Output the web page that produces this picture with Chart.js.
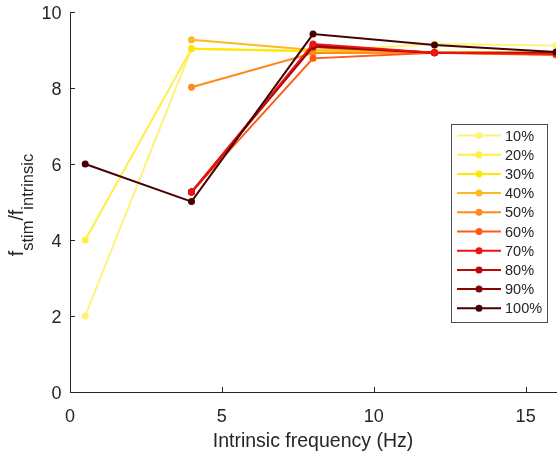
<!DOCTYPE html>
<html>
<head>
<meta charset="utf-8">
<script src="https://cdn.jsdelivr.net/npm/chart.js@4/dist/chart.umd.min.js"></script>
<style>
  html, body { margin: 0; padding: 0; background: #fff; overflow: hidden; }
  #wrap { width: 560px; height: 456px; }
</style>
</head>
<body>
<div id="wrap"><canvas id="ratioChart"></canvas></div>
<script>
// intrinsic frequencies (Hz) shared by every curve
const freqs = [0.5, 4, 8, 12, 16];

const levels = ["10%", "20%", "30%", "40%", "50%", "60%", "70%", "80%", "90%", "100%"];

// f_stim / f_intrinsic per stimulation level (null = no value at that frequency)
const ratio10 = [2.0, 9.03, 8.97, 9.16, 9.12];
const ratio20 = [4.0, 9.03, 8.97, 8.95, 8.93];
const ratio30 = [null, 9.03, 8.97, 8.95, 8.93];
const ratio40 = [null, 9.27, 9.0, 8.94, 8.92];
const ratio50 = [null, 8.02, 8.92, 8.93, 8.88];
const ratio60 = [null, 5.26, 8.78, 8.93, 8.87];
const ratio70 = [null, 5.26, 9.16, 8.93, 8.9];
const ratio80 = [null, 5.26, 9.08, 8.93, 8.92];
const ratio90 = [null, 5.26, 9.12, 8.93, 8.93];
const ratio100 = [6.0, 5.01, 9.42, 9.13, 8.95];

const allRatios = [ratio10, ratio20, ratio30, ratio40, ratio50,
  ratio60, ratio70, ratio80, ratio90, ratio100];

const colors = ["#fff27a", "#ffee44", "#ffe800", "#ffb81e", "#ff8a1c",
  "#ff5a16", "#ee1212", "#bb0a0a", "#860606", "#460202"];

const xTicks = [0, 5, 10, 15];
const yTicks = [0, 2, 4, 6, 8, 10];

const axisColor = "#262626";
const fontFamily = "'Liberation Sans', Arial, sans-serif";

// later levels on top, except 70% which sits just under 100%
const datasets = allRatios.map((vals, i) => ({
  label: levels[i],
  data: freqs.map((f, j) => ({ x: f, y: vals[j] })),
  borderColor: colors[i],
  backgroundColor: colors[i],
  pointBackgroundColor: colors[i],
  pointBorderColor: colors[i],
  borderWidth: 2,
  pointRadius: 3.5,
  pointBorderWidth: 0,
  tension: 0,
  spanGaps: false,
  order: levels[i] === "70%" ? 1.5 : allRatios.length - i
}));

// inward tick marks, tick labels, axis titles and the boxed legend
const decorations = {
  id: "decorations",
  beforeDatasetsDraw(chart) {
    const ctx = chart.ctx;
    const { left, bottom } = chart.chartArea;
    const xs = chart.scales.x, ys = chart.scales.y;
    ctx.save();
    ctx.strokeStyle = axisColor;
    ctx.lineWidth = 1;
    ctx.beginPath();
    xTicks.forEach(v => {
      const px = Math.round(xs.getPixelForValue(v)) + 0.5;
      ctx.moveTo(px, bottom);
      ctx.lineTo(px, bottom - 5);
    });
    yTicks.forEach(v => {
      const py = Math.round(ys.getPixelForValue(v)) + 0.5;
      ctx.moveTo(left, py);
      ctx.lineTo(left + 5, py);
    });
    ctx.stroke();

    ctx.fillStyle = axisColor;
    ctx.font = "18px " + fontFamily;
    ctx.textBaseline = "alphabetic";
    ctx.textAlign = "center";
    xTicks.forEach(v => {
      ctx.fillText(String(v), xs.getPixelForValue(v), 421.5);
    });
    ctx.textAlign = "right";
    yTicks.forEach(v => {
      ctx.fillText(String(v), left - 8.5, ys.getPixelForValue(v) + 6.8);
    });
    ctx.restore();
  },
  afterDraw(chart) {
    const ctx = chart.ctx;
    const { left, right } = chart.chartArea;
    ctx.save();
    ctx.fillStyle = axisColor;

    // x title
    ctx.font = "19.5px " + fontFamily;
    ctx.textAlign = "center";
    ctx.textBaseline = "alphabetic";
    ctx.fillText("Intrinsic frequency (Hz)", (left + right) / 2, 446.5);

    // y title with subscripts
    const parts = [
      { t: "f", size: 19.5, sub: false },
      { t: "stim", size: 16.5, sub: true },
      { t: "/f", size: 19.5, sub: false },
      { t: "intrinsic", size: 16.5, sub: true }
    ];
    let total = 0;
    parts.forEach(p => {
      ctx.font = p.size + "px " + fontFamily;
      p.w = ctx.measureText(p.t).width;
      total += p.w;
    });
    ctx.translate(23, 205);
    ctx.rotate(-Math.PI / 2);
    ctx.textAlign = "left";
    let cx = -total / 2;
    parts.forEach(p => {
      ctx.font = p.size + "px " + fontFamily;
      ctx.fillText(p.t, cx, p.sub ? 10 : 0);
      cx += p.w;
    });
    ctx.restore();

    // legend box
    ctx.save();
    const bx = 451.5, by = 124.5, bw = 96, bh = 198;
    ctx.fillStyle = "#fff";
    ctx.fillRect(bx, by, bw, bh);
    ctx.strokeStyle = "#4d4d4d";
    ctx.lineWidth = 1;
    ctx.strokeRect(bx, by, bw, bh);
    ctx.font = "14.5px " + fontFamily;
    ctx.textAlign = "left";
    ctx.textBaseline = "middle";
    levels.forEach((lab, i) => {
      const y = 135.5 + i * 19.2;
      ctx.strokeStyle = colors[i];
      ctx.lineWidth = 2;
      ctx.beginPath();
      ctx.moveTo(457, y);
      ctx.lineTo(501, y);
      ctx.stroke();
      ctx.fillStyle = colors[i];
      ctx.beginPath();
      ctx.arc(479, y, 3.5, 0, Math.PI * 2);
      ctx.fill();
      ctx.fillStyle = axisColor;
      ctx.fillText(lab, 505, y + 1);
    });
    ctx.restore();
  }
};

new Chart(document.getElementById("ratioChart"), {
  type: "line",
  data: { datasets },
  options: {
    responsive: true,
    maintainAspectRatio: false,
    animation: false,
    layout: { padding: { top: 12, right: 0, left: 0, bottom: 0 } },
    plugins: {
      legend: { display: false },
      tooltip: { enabled: false }
    },
    scales: {
      x: {
        type: "linear",
        min: 0,
        max: 16,
        afterFit: s => { s.height = 64; },
        grid: { display: false, drawTicks: false },
        border: { display: true, color: axisColor, width: 1 },
        ticks: { display: false }
      },
      y: {
        type: "linear",
        min: 0,
        max: 10,
        afterFit: s => { s.width = 70; },
        grid: { display: false, drawTicks: false },
        border: { display: true, color: axisColor, width: 1 },
        ticks: { display: false }
      }
    }
  },
  plugins: [decorations]
});
</script>
</body>
</html>
